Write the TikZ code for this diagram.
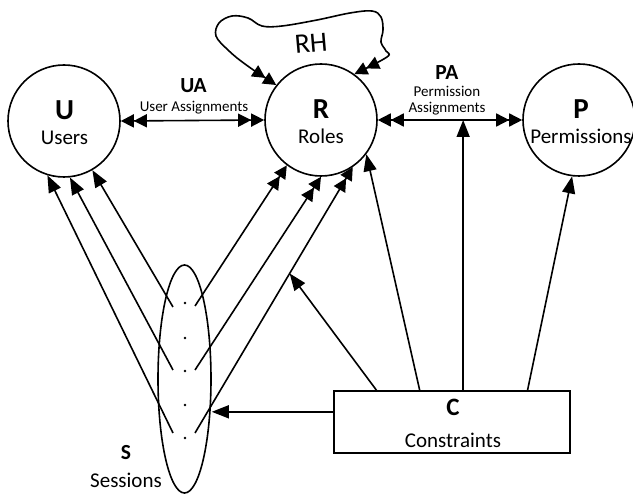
\documentclass[tikz,border=0pt]{standalone}
\usepackage{fontspec}
\setmainfont{Carlito}
\usetikzlibrary{arrows.meta,shapes.geometric,calc}

\tikzset{
  ln/.style={line width=1.6pt},
  ring/.style={circle, draw, ln, minimum size=112pt, inner sep=0pt},
  bigletter/.style={font=\fontsize{29}{33}\selectfont\bfseries, inner sep=0pt, anchor=base},
  midletter/.style={font=\fontsize{25}{29}\selectfont\bfseries, inner sep=0pt, anchor=base},
  relletter/.style={font=\fontsize{21.5}{25}\selectfont\bfseries, inner sep=0pt, anchor=base},
  caption/.style={font=\fontsize{21}{25}\selectfont, inner sep=0pt, anchor=base},
  smallcap/.style={font=\fontsize{15}{18}\selectfont, inner sep=0pt, anchor=base},
  onehead/.style={ln, -{Triangle[length=17pt,width=13pt]}},
  twohead/.style={ln, -{Triangle[length=13pt,width=13pt,sep=0pt]Triangle[length=13pt,width=13pt]}},
  bothtwo/.style={ln, {Triangle[length=13pt,width=13pt,sep=0pt]Triangle[length=13pt,width=13pt]}-{Triangle[length=13pt,width=13pt,sep=0pt]Triangle[length=13pt,width=13pt]}},
}

\begin{document}
\begin{tikzpicture}[x=1pt, y=-1pt]
  \useasboundingbox (0,0) rectangle (633,494);

  % entity circles
  \node[ring] (U) at (64,121) {};
  \node[ring] (R) at (321,120) {};
  \node[ring] (P) at (579,120) {};

  \node[bigletter] (Ut) at (64.5,120) {U};
  \node[caption]   (Uc) at (64.5,145) {Users};
  \node[bigletter] (Rt) at (321,119) {R};
  \node[caption]   (Rc) at (321,143.5) {Roles};
  \node[bigletter] (Pt) at (581,119) {P};
  \node[caption]   (Pc) at (581,143.5) {Permissions};

  % sessions ellipse
  \node[ellipse, draw, ln, minimum width=53pt, minimum height=228pt, inner sep=0pt] (S) at (184.5,379) {};
  \node[relletter] (St) at (126,460) {S};
  \node[caption]   (Sc) at (126,488) {Sessions};

  % constraints box
  \node[rectangle, draw, ln, minimum width=236pt, minimum height=62pt, inner sep=0pt] (C) at (452,422) {};
  \node[midletter] (Ct) at (453,415.5) {C};
  \node[caption]   (Cc) at (453,448) {Constraints};

  % assignment relations
  \draw[bothtwo] (U.east) -- (R.west);
  \node[relletter] (UA) at (193.5,93) {UA};
  \node[smallcap]  (UAc) at (194,112) {User Assignments};

  \draw[bothtwo] (R.east) -- (P.west);
  \node[relletter] (PA) at (447,80) {PA};
  \node[smallcap]  (PAc1) at (447,97) {Permission};
  \node[smallcap]  (PAc2) at (447,113) {Assignments};

  % role hierarchy loop
  \draw[bothtwo] plot[smooth, tension=0.6] coordinates {
    (R.142) (245,64) (228,50) (216,36) (219,23) (232,16) (248,18) (262,26)
    (282,26) (317,20) (350,13) (372,11) (381,17) (383,30) (381,42) (386,51)
    (387,57) (R.54)};
  \node[font=\fontsize{28}{32}\selectfont, rotate=5, inner sep=0pt] (RH) at (311,43) {RH};

  % session dots
  \foreach \yy in {303,338,371,405,438} \fill (185,\yy) circle (1.4pt);

  % session connector ends
  \coordinate (s1l) at (173,307);
  \coordinate (s2l) at (173,370);
  \coordinate (s3l) at (173,433);
  \coordinate (s1r) at (195,306);
  \coordinate (s2r) at (195,370);
  \coordinate (s3r) at (195,433);

  \draw[onehead] (s1l) -- (U.-60);
  \draw[onehead] (s2l) -- (U.-84);
  \draw[onehead] (s3l) -- (U.-107);

  \draw[twohead] (s1r) -- (R.-127);
  \draw[twohead] (s2r) -- (R.-90);
  \draw[twohead] (s3r) -- (R.-56);

  % constraint connectors
  \coordinate (c1) at ($(C.north west)!0.182!(C.north east)$);
  \coordinate (c2) at ($(C.north west)!0.364!(C.north east)$);
  \coordinate (c3) at ($(C.north west)!0.547!(C.north east)$);
  \coordinate (c4) at ($(C.north west)!0.818!(C.north east)$);
  \coordinate (cw) at ($(C.north west)!0.34!(C.south west)$);
  \coordinate (sline) at ($(s3r)!0.6!(R.-56)$);

  \draw[onehead] (c1) -- (sline);
  \draw[onehead] (c2) -- (R.-37.6);
  \draw[onehead] (c3) -- (c3 |- R.east);
  \draw[onehead] (c4) -- (P.-97);
  \draw[onehead] (cw) -- (cw -| S.east);
\end{tikzpicture}
\end{document}
